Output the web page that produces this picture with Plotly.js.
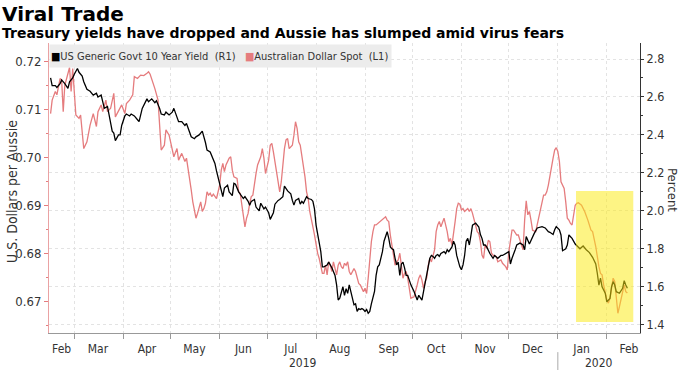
<!DOCTYPE html>
<html><head><meta charset="utf-8">
<script src="https://cdn.plot.ly/plotly-3.0.1.min.js"></script>
<style>html,body{margin:0;padding:0;background:#fff}#chart{width:680px;height:370px}</style>
</head><body><div id="chart"></div>
<script>
// US Generic Govt 10 Year Yield (percent, right axis)
const usDates = ['2019-02-14','2019-02-15','2019-02-17','2019-02-18','2019-02-20','2019-02-21','2019-02-23','2019-02-25','2019-02-26','2019-02-28',
'2019-03-01','2019-03-03','2019-03-04','2019-03-06','2019-03-07','2019-03-09','2019-03-11','2019-03-13','2019-03-15','2019-03-16','2019-03-18','2019-03-19','2019-03-20','2019-03-22','2019-03-23','2019-03-25','2019-03-26','2019-03-27','2019-03-29','2019-03-30','2019-03-31',
'2019-04-02','2019-04-03','2019-04-05','2019-04-06','2019-04-08','2019-04-10','2019-04-11','2019-04-13','2019-04-14','2019-04-16','2019-04-17','2019-04-19','2019-04-21','2019-04-22','2019-04-24','2019-04-25','2019-04-27','2019-04-28','2019-04-30',
'2019-05-02','2019-05-03','2019-05-05','2019-05-06','2019-05-08','2019-05-10','2019-05-11','2019-05-13','2019-05-14','2019-05-16','2019-05-17','2019-05-19','2019-05-20','2019-05-21','2019-05-23','2019-05-24','2019-05-26','2019-05-28','2019-05-29','2019-05-30',
'2019-06-01','2019-06-02','2019-06-03','2019-06-04','2019-06-06','2019-06-07','2019-06-09','2019-06-10','2019-06-11','2019-06-13','2019-06-14','2019-06-16','2019-06-17','2019-06-19','2019-06-20','2019-06-21','2019-06-23','2019-06-24','2019-06-26','2019-06-27','2019-06-29','2019-06-30',
'2019-07-02','2019-07-03','2019-07-05','2019-07-06','2019-07-08','2019-07-09','2019-07-11','2019-07-12','2019-07-14','2019-07-16','2019-07-17','2019-07-18','2019-07-19','2019-07-21','2019-07-22','2019-07-23','2019-07-24','2019-07-26','2019-07-27','2019-07-29','2019-07-30','2019-07-31',
'2019-08-01','2019-08-03','2019-08-04','2019-08-05','2019-08-06','2019-08-08','2019-08-09','2019-08-11','2019-08-12','2019-08-13','2019-08-14','2019-08-15','2019-08-16','2019-08-17','2019-08-18','2019-08-19','2019-08-20','2019-08-21','2019-08-22','2019-08-24','2019-08-25','2019-08-26','2019-08-27','2019-08-28','2019-08-29','2019-08-30','2019-08-31',
'2019-09-01','2019-09-02','2019-09-03','2019-09-04','2019-09-05','2019-09-06','2019-09-07','2019-09-08','2019-09-09','2019-09-10','2019-09-11','2019-09-12','2019-09-13','2019-09-15','2019-09-16','2019-09-17','2019-09-18','2019-09-19','2019-09-20','2019-09-21','2019-09-22','2019-09-23','2019-09-24','2019-09-25','2019-09-26','2019-09-27','2019-09-28','2019-09-29','2019-09-30',
'2019-10-02','2019-10-03','2019-10-04','2019-10-05','2019-10-06','2019-10-07','2019-10-08','2019-10-09','2019-10-10','2019-10-11','2019-10-12','2019-10-13','2019-10-14','2019-10-15','2019-10-16','2019-10-17','2019-10-18','2019-10-19','2019-10-21','2019-10-22','2019-10-23','2019-10-24','2019-10-25','2019-10-26','2019-10-27','2019-10-28','2019-10-29','2019-10-30','2019-10-31',
'2019-11-01','2019-11-02','2019-11-03','2019-11-04','2019-11-05','2019-11-06','2019-11-07','2019-11-08','2019-11-10','2019-11-11','2019-11-12','2019-11-13','2019-11-14','2019-11-15','2019-11-16','2019-11-17','2019-11-19','2019-11-21','2019-11-22','2019-11-24','2019-11-26','2019-11-27','2019-11-29',
'2019-12-01','2019-12-02','2019-12-03','2019-12-05','2019-12-06','2019-12-08','2019-12-10','2019-12-11','2019-12-12','2019-12-14','2019-12-16','2019-12-17','2019-12-19','2019-12-21','2019-12-22','2019-12-24','2019-12-26','2019-12-27','2019-12-29','2019-12-30','2019-12-31',
'2020-01-02','2020-01-03','2020-01-04','2020-01-06','2020-01-07','2020-01-08','2020-01-10','2020-01-11','2020-01-12','2020-01-15','2020-01-17','2020-01-19','2020-01-21','2020-01-23','2020-01-25','2020-01-26','2020-01-27','2020-01-28','2020-01-29','2020-01-31',
'2020-02-01','2020-02-03','2020-02-04','2020-02-05','2020-02-06','2020-02-07','2020-02-09','2020-02-11','2020-02-12','2020-02-13','2020-02-14'];
const usYield = [2.70,2.66,2.66,2.65,2.67,2.69,2.67,2.645,2.68,2.70,
2.72,2.75,2.73,2.71,2.68,2.64,2.63,2.61,2.62,2.60,2.61,2.58,2.54,2.55,2.50,2.42,2.41,2.37,2.40,2.40,2.45,
2.50,2.51,2.50,2.51,2.50,2.48,2.47,2.54,2.56,2.59,2.575,2.59,2.57,2.58,2.54,2.51,2.505,2.52,2.505,
2.52,2.54,2.50,2.47,2.47,2.45,2.46,2.41,2.39,2.38,2.39,2.40,2.41,2.42,2.36,2.32,2.31,2.27,2.25,2.21,
2.145,2.10,2.075,2.12,2.135,2.10,2.08,2.145,2.14,2.10,2.09,2.065,2.075,2.05,2.03,2.05,2.06,2.02,2.00,2.04,2.01,2.02,
1.99,1.955,1.99,2.035,2.055,2.06,2.075,2.13,2.105,2.09,2.055,2.03,2.055,2.065,2.035,2.05,2.04,2.075,2.065,2.06,2.05,2.01,
1.925,1.84,1.785,1.705,1.705,1.715,1.73,1.70,1.68,1.66,1.61,1.53,1.54,1.575,1.60,1.555,1.59,1.565,1.61,1.54,1.505,1.51,1.47,1.485,1.48,1.485,1.48,
1.47,1.48,1.46,1.47,1.51,1.54,1.575,1.66,1.705,1.715,1.75,1.785,1.84,1.89,1.855,1.81,1.80,1.795,1.75,1.715,1.73,1.66,1.72,1.73,1.70,1.66,1.66,1.635,1.61,
1.575,1.555,1.53,1.555,1.54,1.53,1.575,1.62,1.68,1.705,1.75,1.765,1.76,1.75,1.765,1.77,1.76,1.775,1.785,1.775,1.795,1.785,1.80,1.81,1.84,1.82,1.765,1.73,1.705,
1.69,1.715,1.765,1.84,1.855,1.82,1.87,1.925,1.935,1.925,1.915,1.875,1.855,1.82,1.82,1.81,1.775,1.75,1.765,1.75,1.765,1.765,1.775,
1.785,1.72,1.75,1.795,1.82,1.83,1.82,1.795,1.865,1.825,1.865,1.88,1.91,1.915,1.917,1.91,1.89,1.887,1.875,1.90,1.917,
1.90,1.873,1.79,1.80,1.82,1.873,1.855,1.84,1.825,1.80,1.815,1.795,1.78,1.755,1.72,1.67,1.609,1.645,1.60,1.566,
1.521,1.539,1.60,1.627,1.609,1.574,1.566,1.592,1.632,1.609,1.592];

// Australian Dollar Spot (US$ per A$, left axis)
const audDates = ['2019-02-14','2019-02-15','2019-02-17','2019-02-18','2019-02-20','2019-02-21','2019-02-22','2019-02-23','2019-02-26','2019-02-27','2019-02-28',
'2019-03-02','2019-03-04','2019-03-05','2019-03-07','2019-03-09','2019-03-11','2019-03-13','2019-03-15','2019-03-16','2019-03-18','2019-03-19','2019-03-21','2019-03-22','2019-03-24','2019-03-26','2019-03-27','2019-03-29','2019-03-31',
'2019-04-02','2019-04-03','2019-04-05','2019-04-07','2019-04-08','2019-04-10','2019-04-12','2019-04-14','2019-04-16','2019-04-17','2019-04-18','2019-04-20','2019-04-21','2019-04-23','2019-04-24','2019-04-25','2019-04-27','2019-04-28','2019-04-30',
'2019-05-02','2019-05-03','2019-05-05','2019-05-06','2019-05-08','2019-05-10','2019-05-11','2019-05-13','2019-05-14','2019-05-15','2019-05-16','2019-05-17','2019-05-18','2019-05-20','2019-05-21','2019-05-22','2019-05-23','2019-05-24','2019-05-25','2019-05-26','2019-05-27','2019-05-28','2019-05-30','2019-05-31',
'2019-06-01','2019-06-02','2019-06-03','2019-06-04','2019-06-05','2019-06-07','2019-06-08','2019-06-09','2019-06-10','2019-06-12','2019-06-13','2019-06-14','2019-06-15','2019-06-16','2019-06-17','2019-06-18','2019-06-19','2019-06-20','2019-06-21','2019-06-22','2019-06-23','2019-06-24','2019-06-25','2019-06-27','2019-06-28','2019-06-29','2019-06-30',
'2019-07-02','2019-07-03','2019-07-04','2019-07-05','2019-07-06','2019-07-07','2019-07-08','2019-07-09','2019-07-10','2019-07-11','2019-07-12','2019-07-13','2019-07-14','2019-07-15','2019-07-17','2019-07-18','2019-07-19','2019-07-20','2019-07-21','2019-07-22','2019-07-23','2019-07-24','2019-07-25','2019-07-26','2019-07-27','2019-07-28','2019-07-29','2019-07-30','2019-07-31',
'2019-08-01','2019-08-02','2019-08-03','2019-08-05','2019-08-06','2019-08-07','2019-08-08','2019-08-09','2019-08-10','2019-08-11','2019-08-12','2019-08-13','2019-08-14','2019-08-15','2019-08-16','2019-08-17','2019-08-18','2019-08-19','2019-08-20','2019-08-21','2019-08-22','2019-08-23','2019-08-25','2019-08-26','2019-08-27','2019-08-28','2019-08-29','2019-08-30','2019-08-31',
'2019-09-01','2019-09-02','2019-09-03','2019-09-04','2019-09-05','2019-09-06','2019-09-07','2019-09-08','2019-09-09','2019-09-10','2019-09-11','2019-09-13','2019-09-14','2019-09-15','2019-09-16','2019-09-17','2019-09-18','2019-09-19','2019-09-20','2019-09-21','2019-09-22','2019-09-23','2019-09-24','2019-09-25','2019-09-26','2019-09-27','2019-09-28','2019-09-29','2019-09-30',
'2019-10-02','2019-10-03','2019-10-04','2019-10-05','2019-10-06','2019-10-07','2019-10-08','2019-10-09','2019-10-10','2019-10-11','2019-10-12','2019-10-13','2019-10-14','2019-10-15','2019-10-16','2019-10-17','2019-10-18','2019-10-19','2019-10-21','2019-10-22','2019-10-23','2019-10-24','2019-10-25','2019-10-26','2019-10-27','2019-10-28','2019-10-29','2019-10-30','2019-10-31',
'2019-11-01','2019-11-02','2019-11-03','2019-11-04','2019-11-05','2019-11-06','2019-11-07','2019-11-08','2019-11-10','2019-11-11','2019-11-12','2019-11-13','2019-11-14','2019-11-15','2019-11-16','2019-11-17','2019-11-18','2019-11-19','2019-11-20','2019-11-21','2019-11-23','2019-11-24','2019-11-26','2019-11-27','2019-11-29','2019-11-30',
'2019-12-01','2019-12-03','2019-12-04','2019-12-06','2019-12-07','2019-12-08','2019-12-09','2019-12-10','2019-12-11','2019-12-12','2019-12-13','2019-12-14','2019-12-15','2019-12-16','2019-12-18','2019-12-19','2019-12-20','2019-12-21','2019-12-22','2019-12-23','2019-12-24','2019-12-25','2019-12-26','2019-12-27','2019-12-28','2019-12-29','2019-12-30','2019-12-31',
'2020-01-01','2020-01-02','2020-01-03','2020-01-05','2020-01-06','2020-01-07','2020-01-08','2020-01-09','2020-01-10','2020-01-11','2020-01-12','2020-01-13','2020-01-14','2020-01-16','2020-01-18','2020-01-20','2020-01-22','2020-01-23','2020-01-25','2020-01-27','2020-01-28','2020-01-29','2020-01-30',
'2020-02-01','2020-02-02','2020-02-03','2020-02-04','2020-02-05','2020-02-06','2020-02-07','2020-02-08','2020-02-09','2020-02-10','2020-02-12','2020-02-13','2020-02-14'];
const audSpot = [0.7092,0.7120,0.7138,0.7131,0.7165,0.7162,0.7096,0.7151,0.7188,0.7138,0.7186,
0.7089,0.7082,0.7089,0.7019,0.7033,0.7068,0.7092,0.7065,0.7096,0.7110,0.7096,0.7120,0.7096,0.7103,0.7134,0.7085,0.7096,0.7110,
0.7092,0.7113,0.7120,0.7131,0.7169,0.7165,0.7172,0.7171,0.7176,0.7179,0.7174,0.7155,0.7144,0.7120,0.7068,0.7016,0.7026,0.7058,0.7047,
0.7016,0.7002,0.7019,0.6995,0.7009,0.6992,0.6999,0.6947,0.6933,0.6908,0.6888,0.6874,0.6884,0.6908,0.6888,0.6894,0.6905,0.6929,0.6922,0.6926,0.6919,0.6924,0.6915,0.6929,
0.6943,0.6974,0.6988,0.6971,0.6985,0.6999,0.7002,0.6974,0.6960,0.6957,0.6929,0.6926,0.6901,0.6874,0.6856,0.6874,0.6884,0.6905,0.6919,0.6922,0.6950,0.6967,0.6985,0.7002,0.7019,0.6999,0.6967,
0.6995,0.7026,0.7030,0.7012,0.6992,0.6978,0.6957,0.6929,0.6950,0.6992,0.7019,0.7037,0.7040,0.7019,0.7026,0.7047,0.7075,0.7061,0.7033,0.7026,0.7006,0.6985,0.6960,0.6929,0.6915,0.6888,0.6874,0.6856,0.6839,
0.6818,0.6801,0.6790,0.6759,0.6759,0.6776,0.6756,0.6783,0.6776,0.6763,0.6783,0.6770,0.6756,0.6776,0.6783,0.6773,0.6769,0.6780,0.6776,0.6783,0.6763,0.6756,0.6769,0.6763,0.6749,0.6738,0.6735,0.6728,0.6721,
0.6728,0.6717,0.6749,0.6790,0.6825,0.6846,0.6860,0.6860,0.6863,0.6867,0.6870,0.6874,0.6877,0.6870,0.6867,0.6839,0.6818,0.6801,0.6776,0.6783,0.6787,0.6801,0.6776,0.6749,0.6759,0.6763,0.6749,0.6731,0.6707,
0.6710,0.6721,0.6735,0.6749,0.6756,0.6745,0.6728,0.6742,0.6749,0.6776,0.6790,0.6783,0.6797,0.6808,0.6846,0.6860,0.6867,0.6856,0.6874,0.6860,0.6846,0.6825,0.6832,0.6818,0.6839,0.6867,0.6894,0.6905,0.6903,
0.6891,0.6894,0.6888,0.6891,0.6894,0.6888,0.6894,0.6884,0.6860,0.6846,0.6842,0.6825,0.6797,0.6790,0.6818,0.6811,0.6828,0.6825,0.6801,0.6797,0.6794,0.6783,0.6787,0.6780,0.6773,0.6766,
0.6804,0.6849,0.6849,0.6839,0.6839,0.6828,0.6818,0.6808,0.6870,0.6910,0.6881,0.6888,0.6870,0.6849,0.6846,0.6860,0.6874,0.6888,0.6905,0.6922,0.6922,0.6929,0.6943,0.6964,0.6985,0.6999,0.7016,0.7021,
0.7013,0.6992,0.6950,0.6936,0.6908,0.6874,0.6870,0.6863,0.6860,0.6884,0.6901,0.6905,0.6906,0.6901,0.6888,0.6870,0.6849,0.6846,0.6815,0.6773,0.6759,0.6756,0.6735,
0.6704,0.6697,0.6707,0.6731,0.6749,0.6742,0.6710,0.6676,0.6690,0.6707,0.6735,0.6721,0.6718];

const seriesNames = ['US Generic Govt 10 Year Yield\u00a0\u00a0(R1)', 'Australian Dollar Spot\u00a0\u00a0(L1)'];
const seriesColors = ['#000000', '#e57c7e'];

const monthStarts = ['2019-03-01','2019-04-01','2019-05-01','2019-06-01','2019-07-01','2019-08-01','2019-09-01','2019-10-01','2019-11-01','2019-12-01','2020-01-01','2020-02-01'];
const monthLabelDates = ['2019-02-21','2019-03-16','2019-04-16','2019-05-16','2019-06-16','2019-07-16','2019-08-16','2019-09-16','2019-10-16','2019-11-16','2019-12-16','2020-01-16','2020-02-15'];
const monthLabels = ['Feb','Mar','Apr','May','Jun','Jul','Aug','Sep','Oct','Nov','Dec','Jan','Feb'];
const yearLabels = ['2019','2020'];
const yearLabelDates = ['2019-07-24','2020-01-27'];
const yearBoundary = '2020-01-01';

const xRange = ['2019-02-13','2020-02-22'];
const audRange = [0.66348, 0.7239];
const yieldRange = [1.3564, 2.8843];
const highlightX = ['2020-01-12 12:00','2020-02-17 18:00'];
const highlightY = [1.415, 2.105];

const FONT = 'DejaVu Sans Condensed, Liberation Sans Narrow, Liberation Sans, Arial, sans-serif';

const traces = [
  {x: audDates, y: audSpot, type: 'scatter', mode: 'lines', name: seriesNames[1], yaxis: 'y',
   line: {color: seriesColors[1], width: 1.3}, hoverinfo: 'skip'},
  {x: usDates, y: usYield, type: 'scatter', mode: 'lines', name: seriesNames[0], yaxis: 'y2',
   line: {color: seriesColors[0], width: 1.3}, hoverinfo: 'skip'}
];

const legendText = '<span style="color:' + seriesColors[0] + '">■</span>' + seriesNames[0] +
  '\u00a0\u00a0\u00a0<span style="color:' + seriesColors[1] + '">■</span>' + seriesNames[1];

const layout = {
  width: 680, height: 370,
  margin: {l: 49, r: 40, t: 43, b: 37, pad: 0},
  paper_bgcolor: '#ffffff', plot_bgcolor: '#ffffff',
  showlegend: false,
  font: {family: FONT, size: 12, color: '#333333'},
  xaxis: {
    type: 'date', range: xRange, fixedrange: true,
    tickmode: 'array', tickvals: monthLabelDates, ticktext: monthLabels,
    ticks: '', showgrid: false, zeroline: false,
    showline: true, linecolor: '#999999', linewidth: 1,
    tickfont: {family: FONT, size: 12, color: '#333333'},
    ticklabelstandoff: 5,
    minor: {tickmode: 'array', tickvals: monthStarts, ticks: 'outside', ticklen: 5, tickwidth: 1,
            tickcolor: '#999999', showgrid: true, gridcolor: '#e3e3e3', griddash: 'dot', gridwidth: 1}
  },
  yaxis: {
    range: audRange, fixedrange: true, tick0: 0.67, dtick: 0.01, tickformat: '.2f',
    ticks: 'outside', ticklen: 4, tickwidth: 1, tickcolor: '#e57c7e',
    showline: true, linecolor: '#eaa2a3', linewidth: 1,
    showgrid: false, zeroline: false,
    tickfont: {family: FONT, size: 13, color: '#333333'},
    minor: {tick0: 0.665, dtick: 0.005, ticks: 'outside', ticklen: 2, tickcolor: '#e57c7e', showgrid: false}
  },
  yaxis2: {
    overlaying: 'y', side: 'right', range: yieldRange, fixedrange: true,
    tick0: 1.4, dtick: 0.2, tickformat: '.1f',
    ticks: 'outside', ticklen: 3, tickwidth: 1, tickcolor: '#333333',
    showline: true, linecolor: '#333333', linewidth: 1,
    showgrid: true, gridcolor: '#e3e3e3', griddash: 'dot', gridwidth: 1, zeroline: false,
    tickfont: {family: FONT, size: 12.5, color: '#333333'},
    ticklabelstandoff: 0,
    minor: {tick0: 1.3, dtick: 0.1, ticks: 'outside', ticklen: 2, tickcolor: '#333333', showgrid: false}
  },
  shapes: [
    {type: 'rect', xref: 'x', yref: 'y2', x0: highlightX[0], x1: highlightX[1], y0: highlightY[0], y1: highlightY[1],
     fillcolor: 'rgba(252,234,20,0.52)', line: {width: 0}, layer: 'above'},
    {type: 'line', xref: 'x', yref: 'paper', x0: yearBoundary, x1: yearBoundary, y0: -0.066, y1: -0.13,
     line: {color: '#aaaaaa', width: 1}}
  ],
  annotations: [
    {text: 'Viral Trade', xref: 'paper', yref: 'paper', x: 0, y: 1, xanchor: 'left', yanchor: 'middle',
     xshift: -49, yshift: 29, showarrow: false,
     font: {family: 'DejaVu Sans, Arial, sans-serif', size: 20, color: '#000000', weight: 'bold'}},
    {text: 'Treasury yields have dropped and Aussie has slumped amid virus fears', xref: 'paper', yref: 'paper',
     x: 0, y: 1, xanchor: 'left', yanchor: 'middle', xshift: -49, yshift: 10, showarrow: false,
     font: {family: 'DejaVu Sans, Arial, sans-serif', size: 14, color: '#000000', weight: 'bold'}},
    {text: legendText, xref: 'paper', yref: 'paper', x: 0, y: 1, xanchor: 'left', yanchor: 'top',
     yshift: -1, showarrow: false, bgcolor: '#ececec', width: 339, height: 20, align: 'left', borderpad: 1,
     font: {family: FONT, size: 11, color: '#333333'}},
    {text: 'U.S. Dollars per Aussie', xref: 'paper', yref: 'paper', x: 0, y: 0.5, xanchor: 'center', yanchor: 'middle',
     xshift: -37, yshift: -4, textangle: -90, showarrow: false,
     font: {family: FONT, size: 14, color: '#333333'}},
    {text: 'Percent', xref: 'paper', yref: 'paper', x: 1, y: 0.5, xanchor: 'center', yanchor: 'middle',
     xshift: 33, yshift: -2, textangle: 90, showarrow: false,
     font: {family: FONT, size: 13, color: '#333333'}},
    {text: yearLabels[0], xref: 'x', yref: 'paper', x: yearLabelDates[0], y: 0, yanchor: 'top', yshift: -21,
     showarrow: false, font: {family: FONT, size: 12, color: '#333333'}},
    {text: yearLabels[1], xref: 'x', yref: 'paper', x: yearLabelDates[1], y: 0, yanchor: 'top', yshift: -21,
     showarrow: false, font: {family: FONT, size: 12, color: '#333333'}}
  ]
};

Plotly.newPlot('chart', traces, layout, {staticPlot: true, displayModeBar: false});
</script>
</body></html>
